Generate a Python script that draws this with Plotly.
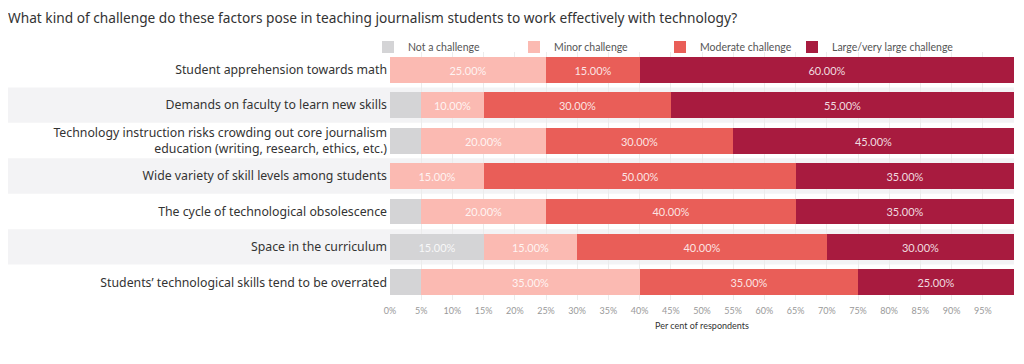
import plotly.graph_objects as go

factors = [
    "Student apprehension towards math",
    "Demands on faculty to learn new skills",
    "Technology instruction risks crowding out core journalism<br>education (writing, research, ethics, etc.)",
    "Wide variety of skill levels among students",
    "The cycle of technological obsolescence",
    "Space in the curriculum",
    "Students\u2019 technological skills tend to be overrated",
]
series_names = ["Not a challenge", "Minor challenge", "Moderate challenge", "Large/very large challenge"]
not_a_challenge = [0, 5, 5, 0, 5, 15, 5]
minor_challenge = [25, 10, 20, 15, 20, 15, 35]
moderate_challenge = [15, 30, 30, 50, 40, 40, 35]
large_challenge = [60, 55, 45, 35, 35, 30, 25]
tick_values = list(range(0, 100, 5))
tick_labels = [f"{v}%" for v in tick_values]

colors = ["#d4d4d6", "#fbbab2", "#e95e58", "#a81b3f"]
series_values = [not_a_challenge, minor_challenge, moderate_challenge, large_challenge]

# page body has an 8px margin: work in figure coordinates = screen - 8
OFF = 8
W, H = 1024 - OFF, 364 - OFF
PLOT_L, PLOT_R = 390 - OFF, 1014 - OFF
PLOT_T, PLOT_B = 52 - OFF, 300 - OFF
PW = PLOT_R - PLOT_L
PH = PLOT_B - PLOT_T

legend_ids = ["legend", "legend2", "legend3", "legend4"]
legend_text_x = [408, 554, 700, 832]  # screen x where legend text starts

fig = go.Figure()
for name, vals, col, lid in zip(series_names, series_values, colors, legend_ids):
    fig.add_trace(go.Bar(
        y=factors, x=vals, name=name, orientation="h", legend=lid, showlegend=True,
        marker=dict(color=col, line=dict(width=0)),
        text=[f"{v:.2f}%" if v >= 10 else "" for v in vals],
        textposition="inside", insidetextanchor="middle",
        textfont=dict(color="rgba(255,255,255,0.85)", size=11, family="Lato"),
        width=0.73, hoverinfo="skip",
    ))

# alternating row bands
for i in range(len(factors)):
    if i % 2 == 1:
        fig.add_shape(type="rect", xref="paper", yref="y",
                      x0=-PLOT_L / PW, x1=1.0, y0=i - 0.5, y1=i + 0.5,
                      fillcolor="#f3f3f5", line=dict(width=0), layer="below")

legend_common = dict(orientation="h", xanchor="left", yanchor="middle", y=1 + 5 / PH,
                     itemwidth=30, font=dict(size=10.5, family="Lato", color="#555555"),
                     bgcolor="rgba(0,0,0,0)", visible=True)
legend_layout = {}
for lid, tx in zip(legend_ids, legend_text_x):
    lx = (tx - OFF - 40 - PLOT_L) / PW
    legend_layout[lid] = dict(x=lx, **legend_common)

fig.update_layout(
    width=W, height=H,
    margin=dict(l=PLOT_L, r=W - PLOT_R, t=PLOT_T, b=H - PLOT_B),
    barmode="stack",
    showlegend=True,
    paper_bgcolor="white", plot_bgcolor="rgba(0,0,0,0)",
    font=dict(family="Lato", color="#333333"),
    title=dict(text="What kind of challenge do these factors pose in teaching journalism students to work effectively with technology?",
               xref="container", x=0.0, xanchor="left", y=1 - 10 / H, yanchor="middle",
               pad=dict(l=0, r=0, t=0, b=0),
               font=dict(size=13.7, family="Noto Sans", color="#333333")),
    xaxis=dict(range=[0, 100], tickvals=tick_values, ticktext=tick_labels,
               showgrid=True, gridcolor="#ececec", gridwidth=1, zeroline=False,
               tickfont=dict(size=9, color="#999999", family="Lato"),
               ticklabelstandoff=4,
               title=dict(text="Per cent of respondents", font=dict(size=9, color="#333333", family="Lato"), standoff=7),
               showline=False, fixedrange=True, automargin=False),
    yaxis=dict(categoryorder="array", categoryarray=factors, autorange="reversed",
               showgrid=False, zeroline=False,
               tickfont=dict(size=12.3, family="Noto Sans", color="#333333"),
               ticklabelstandoff=2, fixedrange=True, automargin=False),
    bargap=0,
    **legend_layout,
)

fig.write_html("out.html")
